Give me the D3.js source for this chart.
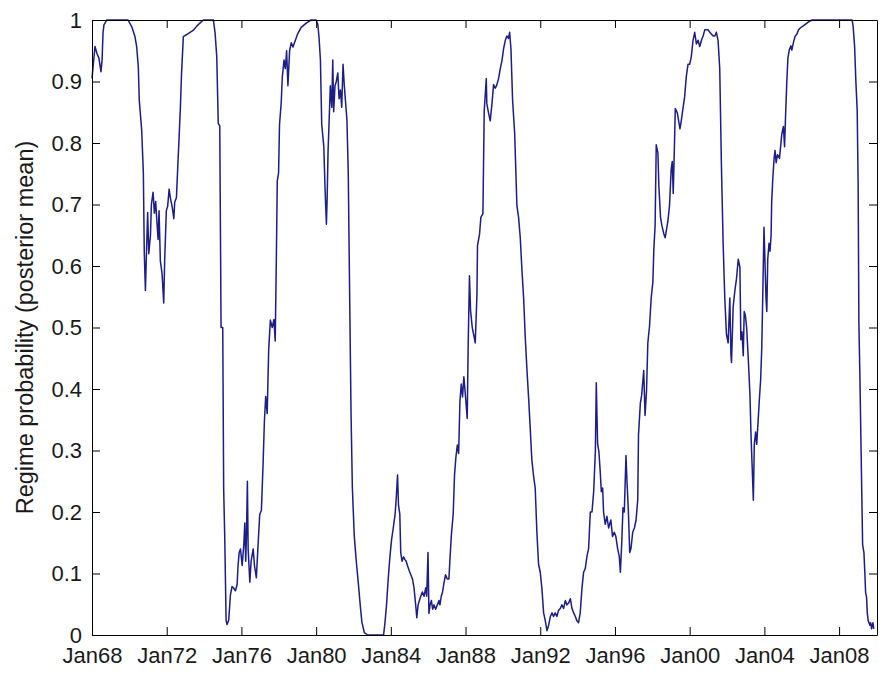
<!DOCTYPE html>
<html>
<head>
<meta charset="utf-8">
<script src="https://cdn.jsdelivr.net/npm/d3@7"></script>
<style>
  html, body { margin: 0; padding: 0; background: #fff; }
  svg { display: block; }
</style>
</head>
<body>
<div id="chart"></div>
<script>
// sample dates (decimal years) and the posterior regime probability
var dates = [
  1968.00, 1968.16, 1968.27, 1968.37, 1968.48, 1968.54, 1968.59, 1968.64, 1968.79, 1969.93,
  1970.13, 1970.30, 1970.39, 1970.48, 1970.53, 1970.66, 1970.75, 1970.80, 1970.86, 1970.91,
  1970.98, 1971.04, 1971.13, 1971.18, 1971.27, 1971.34, 1971.41, 1971.48, 1971.54, 1971.59,
  1971.66, 1971.75, 1971.84, 1971.89, 1971.98, 1972.05, 1972.13, 1972.20, 1972.29, 1972.38,
  1972.43, 1972.52, 1972.59, 1972.66, 1972.73, 1972.79, 1972.89, 1973.05, 1973.25, 1973.45,
  1973.61, 1973.78, 1973.96, 1974.50, 1974.59, 1974.68, 1974.76, 1974.84, 1974.91, 1975.00,
  1975.05, 1975.11, 1975.18, 1975.23, 1975.32, 1975.41, 1975.50, 1975.59, 1975.68, 1975.77,
  1975.82, 1975.88, 1975.95, 1976.04, 1976.13, 1976.18, 1976.23, 1976.27, 1976.32, 1976.36,
  1976.45, 1976.52, 1976.63, 1976.70, 1976.80, 1976.88, 1976.98, 1977.07, 1977.16, 1977.23,
  1977.30, 1977.38, 1977.46, 1977.55, 1977.65, 1977.74, 1977.81, 1977.87, 1977.92, 1977.99,
  1978.04, 1978.13, 1978.19, 1978.28, 1978.35, 1978.42, 1978.49, 1978.58, 1978.67, 1978.76,
  1978.84, 1979.02, 1979.20, 1979.47, 1979.73, 1980.00, 1980.09, 1980.16, 1980.23, 1980.30,
  1980.41, 1980.48, 1980.55, 1980.59, 1980.64, 1980.69, 1980.76, 1980.84, 1980.89, 1980.94,
  1981.01, 1981.08, 1981.16, 1981.23, 1981.30, 1981.37, 1981.44, 1981.51, 1981.58, 1981.65,
  1981.72, 1981.80, 1981.87, 1981.94, 1982.04, 1982.15, 1982.26, 1982.36, 1982.45, 1982.58,
  1982.76, 1983.61, 1983.68, 1983.77, 1983.86, 1983.95, 1984.04, 1984.14, 1984.23, 1984.28,
  1984.36, 1984.41, 1984.48, 1984.53, 1984.60, 1984.68, 1984.75, 1984.82, 1984.89, 1984.98,
  1985.07, 1985.16, 1985.24, 1985.33, 1985.39, 1985.46, 1985.53, 1985.60, 1985.69, 1985.78,
  1985.87, 1985.92, 1985.99, 1986.04, 1986.10, 1986.17, 1986.24, 1986.31, 1986.40, 1986.49,
  1986.58, 1986.63, 1986.70, 1986.77, 1986.84, 1986.93, 1987.02, 1987.11, 1987.16, 1987.24,
  1987.34, 1987.41, 1987.48, 1987.56, 1987.63, 1987.70, 1987.77, 1987.84, 1987.91, 1988.00,
  1988.09, 1988.14, 1988.21, 1988.27, 1988.36, 1988.52, 1988.61, 1988.64, 1988.75, 1988.82,
  1988.93, 1989.00, 1989.11, 1989.14, 1989.23, 1989.32, 1989.41, 1989.50, 1989.59, 1989.68,
  1989.77, 1989.86, 1989.95, 1990.04, 1990.13, 1990.21, 1990.30, 1990.36, 1990.43, 1990.52,
  1990.63, 1990.75, 1990.84, 1990.93, 1991.02, 1991.11, 1991.20, 1991.29, 1991.38, 1991.46,
  1991.55, 1991.64, 1991.73, 1991.82, 1991.91, 1992.00, 1992.09, 1992.18, 1992.27, 1992.36,
  1992.45, 1992.54, 1992.63, 1992.71, 1992.80, 1992.89, 1992.98, 1993.07, 1993.16, 1993.25,
  1993.34, 1993.43, 1993.52, 1993.61, 1993.70, 1993.79, 1993.88, 1993.96, 1994.05, 1994.14,
  1994.23, 1994.32, 1994.41, 1994.50, 1994.59, 1994.68, 1994.77, 1994.86, 1994.95, 1995.00,
  1995.07, 1995.14, 1995.21, 1995.27, 1995.34, 1995.39, 1995.48, 1995.57, 1995.66, 1995.78,
  1995.87, 1995.96, 1996.05, 1996.14, 1996.23, 1996.29, 1996.36, 1996.43, 1996.50, 1996.59,
  1996.65, 1996.72, 1996.79, 1996.86, 1996.95, 1997.04, 1997.13, 1997.22, 1997.26, 1997.36,
  1997.43, 1997.54, 1997.61, 1997.69, 1997.76, 1997.85, 1997.94, 1998.03, 1998.08, 1998.15,
  1998.21, 1998.30, 1998.35, 1998.44, 1998.51, 1998.62, 1998.69, 1998.76, 1998.83, 1998.92,
  1999.01, 1999.07, 1999.12, 1999.19, 1999.23, 1999.34, 1999.41, 1999.48, 1999.55, 1999.64,
  1999.73, 1999.82, 1999.91, 2000.00, 2000.09, 2000.18, 2000.27, 2000.36, 2000.45, 2000.54,
  2000.63, 2000.72, 2000.81, 2000.99, 2001.08, 2001.17, 2001.26, 2001.35, 2001.43, 2001.52,
  2001.61, 2001.70, 2001.79, 2001.88, 2001.97, 2002.06, 2002.15, 2002.21, 2002.24, 2002.33,
  2002.42, 2002.51, 2002.60, 2002.69, 2002.74, 2002.80, 2002.87, 2002.92, 2002.98, 2003.05,
  2003.14, 2003.23, 2003.28, 2003.34, 2003.41, 2003.46, 2003.53, 2003.59, 2003.68, 2003.73,
  2003.80, 2003.86, 2003.91, 2003.98, 2004.04, 2004.09, 2004.13, 2004.18, 2004.25, 2004.30,
  2004.36, 2004.39, 2004.45, 2004.52, 2004.57, 2004.63, 2004.70, 2004.81, 2004.93, 2005.02,
  2005.08, 2005.13, 2005.20, 2005.26, 2005.33, 2005.42, 2005.47, 2005.56, 2005.65, 2005.74,
  2005.83, 2005.92, 2006.06, 2006.19, 2006.37, 2006.55, 2008.70, 2008.75, 2008.83, 2008.90,
  2008.97, 2009.02, 2009.06, 2009.11, 2009.18, 2009.26, 2009.33, 2009.38, 2009.42, 2009.47,
  2009.51, 2009.56, 2009.65, 2009.69, 2009.74, 2009.81, 2009.86
];
var regimeProb = [
  0.905, 0.957, 0.945, 0.938, 0.916, 0.935, 0.979, 0.992, 1.000, 1.000,
  0.989, 0.973, 0.957, 0.924, 0.870, 0.821, 0.751, 0.620, 0.560, 0.615,
  0.687, 0.620, 0.650, 0.700, 0.720, 0.686, 0.705, 0.670, 0.643, 0.690,
  0.608, 0.588, 0.540, 0.608, 0.690, 0.697, 0.725, 0.710, 0.697, 0.677,
  0.704, 0.711, 0.760, 0.807, 0.856, 0.910, 0.973, 0.976, 0.980, 0.984,
  0.990, 0.995, 1.000, 1.000, 0.979, 0.940, 0.832, 0.828, 0.500, 0.500,
  0.237, 0.155, 0.024, 0.017, 0.024, 0.065, 0.079, 0.076, 0.072, 0.082,
  0.113, 0.134, 0.140, 0.113, 0.148, 0.182, 0.120, 0.162, 0.250, 0.140,
  0.086, 0.120, 0.140, 0.113, 0.093, 0.140, 0.196, 0.203, 0.278, 0.347,
  0.388, 0.360, 0.464, 0.512, 0.500, 0.513, 0.478, 0.612, 0.738, 0.752,
  0.830, 0.865, 0.907, 0.935, 0.921, 0.950, 0.893, 0.950, 0.963, 0.956,
  0.963, 0.978, 0.988, 0.995, 1.000, 1.000, 0.993, 0.970, 0.935, 0.830,
  0.795, 0.724, 0.668, 0.710, 0.788, 0.830, 0.893, 0.858, 0.935, 0.851,
  0.893, 0.900, 0.914, 0.872, 0.886, 0.858, 0.928, 0.893, 0.865, 0.837,
  0.752, 0.540, 0.359, 0.240, 0.162, 0.120, 0.084, 0.049, 0.021, 0.004,
  0.000, 0.000, 0.018, 0.049, 0.091, 0.127, 0.155, 0.176, 0.197, 0.218,
  0.260, 0.211, 0.197, 0.134, 0.120, 0.127, 0.123, 0.120, 0.113, 0.105,
  0.098, 0.091, 0.077, 0.049, 0.028, 0.049, 0.056, 0.063, 0.070, 0.063,
  0.077, 0.063, 0.134, 0.035, 0.049, 0.056, 0.042, 0.049, 0.042, 0.049,
  0.056, 0.049, 0.063, 0.070, 0.084, 0.098, 0.091, 0.091, 0.120, 0.162,
  0.197, 0.260, 0.288, 0.309, 0.295, 0.380, 0.408, 0.387, 0.420, 0.387,
  0.352, 0.470, 0.584, 0.527, 0.500, 0.475, 0.553, 0.633, 0.652, 0.679,
  0.685, 0.852, 0.905, 0.864, 0.849, 0.836, 0.862, 0.895, 0.889, 0.895,
  0.905, 0.921, 0.934, 0.954, 0.967, 0.974, 0.970, 0.980, 0.954, 0.869,
  0.816, 0.698, 0.679, 0.646, 0.593, 0.548, 0.482, 0.430, 0.384, 0.338,
  0.285, 0.259, 0.239, 0.167, 0.115, 0.102, 0.075, 0.036, 0.023, 0.007,
  0.016, 0.030, 0.036, 0.030, 0.036, 0.030, 0.040, 0.043, 0.049, 0.043,
  0.056, 0.049, 0.052, 0.059, 0.043, 0.036, 0.030, 0.023, 0.020, 0.036,
  0.075, 0.102, 0.108, 0.128, 0.141, 0.200, 0.200, 0.233, 0.298, 0.410,
  0.311, 0.298, 0.266, 0.233, 0.239, 0.200, 0.180, 0.193, 0.174, 0.187,
  0.160, 0.167, 0.160, 0.141, 0.128, 0.102, 0.148, 0.207, 0.200, 0.292,
  0.246, 0.200, 0.134, 0.141, 0.167, 0.174, 0.187, 0.220, 0.325, 0.377,
  0.390, 0.430, 0.357, 0.397, 0.475, 0.502, 0.548, 0.574, 0.626, 0.666,
  0.797, 0.784, 0.731, 0.679, 0.666, 0.652, 0.646, 0.659, 0.672, 0.698,
  0.757, 0.770, 0.718, 0.803, 0.856, 0.849, 0.836, 0.823, 0.836, 0.856,
  0.875, 0.908, 0.928, 0.928, 0.941, 0.967, 0.980, 0.961, 0.967, 0.957,
  0.967, 0.974, 0.984, 0.984, 0.980, 0.977, 0.974, 0.974, 0.980, 0.967,
  0.921, 0.764, 0.639, 0.548, 0.489, 0.475, 0.548, 0.456, 0.443, 0.534,
  0.560, 0.580, 0.611, 0.598, 0.480, 0.493, 0.454, 0.526, 0.520, 0.500,
  0.448, 0.389, 0.330, 0.278, 0.219, 0.310, 0.330, 0.310, 0.356, 0.382,
  0.415, 0.467, 0.546, 0.663, 0.598, 0.546, 0.526, 0.611, 0.637, 0.624,
  0.650, 0.703, 0.742, 0.775, 0.788, 0.768, 0.781, 0.775, 0.814, 0.827,
  0.794, 0.840, 0.899, 0.938, 0.951, 0.958, 0.951, 0.964, 0.974, 0.977,
  0.984, 0.987, 0.990, 0.993, 0.997, 1.000, 1.000, 0.990, 0.958, 0.899,
  0.853, 0.735, 0.507, 0.428, 0.297, 0.147, 0.134, 0.101, 0.069, 0.062,
  0.036, 0.023, 0.016, 0.020, 0.010, 0.020, 0.010
];

var xTickYears  = [1968, 1972, 1976, 1980, 1984, 1988, 1992, 1996, 2000, 2004, 2008];
var xTickLabels = ["Jan68", "Jan72", "Jan76", "Jan80", "Jan84", "Jan88", "Jan92", "Jan96", "Jan00", "Jan04", "Jan08"];
var yTicks      = [0, 0.1, 0.2, 0.3, 0.4, 0.5, 0.6, 0.7, 0.8, 0.9, 1];
var yTickLabels = ["0", "0.1", "0.2", "0.3", "0.4", "0.5", "0.6", "0.7", "0.8", "0.9", "1"];
var yAxisTitle  = "Regime probability (posterior mean)";

var W = 883, H = 677;
var plotLeft = 92, plotRight = 877, plotTop = 20, plotBottom = 635;

var svg = d3.select("#chart").append("svg")
  .attr("width", W)
  .attr("height", H);

svg.append("rect")
  .attr("width", W).attr("height", H)
  .attr("fill", "#fff");

var x = d3.scaleLinear()
  .domain([1968, 2010.03])
  .range([plotLeft, plotRight]);

var y = d3.scaleLinear()
  .domain([0, 1])
  .range([plotBottom, plotTop]);

var points = d3.zip(dates, regimeProb);

// the series
var line = d3.line()
  .x(d => x(d[0]))
  .y(d => y(d[1]));

svg.append("path")
  .datum(points)
  .attr("fill", "none")
  .attr("stroke", "#1c1c8a")
  .attr("stroke-width", 1.5)
  .attr("stroke-linejoin", "round")
  .attr("d", line);

// axes: ticks point inward, box on all four sides (matlab style)
var tickLen = 8;
var fontFam = "'Liberation Sans', Arial, Helvetica, sans-serif";

var xAxis = d3.axisBottom(x)
  .tickValues(xTickYears)
  .tickFormat((d, i) => xTickLabels[i])
  .tickSizeInner(-tickLen)
  .tickSizeOuter(0)
  .tickPadding(12);

var yAxis = d3.axisLeft(y)
  .tickValues(yTicks)
  .tickFormat((d, i) => yTickLabels[i])
  .tickSizeInner(-tickLen)
  .tickSizeOuter(0)
  .tickPadding(10);

var gx = svg.append("g")
  .attr("transform", `translate(0,${plotBottom})`)
  .call(xAxis);

var gy = svg.append("g")
  .attr("transform", `translate(${plotLeft},0)`)
  .call(yAxis);

svg.append("g")
  .attr("transform", `translate(0,${plotTop})`)
  .call(d3.axisTop(x).tickValues(xTickYears).tickFormat("").tickSizeInner(-tickLen).tickSizeOuter(0));

svg.append("g")
  .attr("transform", `translate(${plotRight},0)`)
  .call(d3.axisRight(y).tickValues(yTicks).tickFormat("").tickSizeInner(-tickLen).tickSizeOuter(0));

svg.selectAll(".domain, .tick line")
  .attr("stroke", "#000")
  .attr("stroke-width", 1);

[gx, gy].forEach(function(g) {
  g.selectAll("text")
    .attr("fill", "#1a1a1a")
    .style("font-family", fontFam)
    .style("font-size", "22px");
});

// y axis title
svg.append("text")
  .attr("transform", `translate(33,${(plotTop + plotBottom) / 2}) rotate(-90)`)
  .attr("text-anchor", "middle")
  .attr("fill", "#1a1a1a")
  .style("font-family", fontFam)
  .style("font-size", "23.5px")
  .text(yAxisTitle);
</script>
</body>
</html>
